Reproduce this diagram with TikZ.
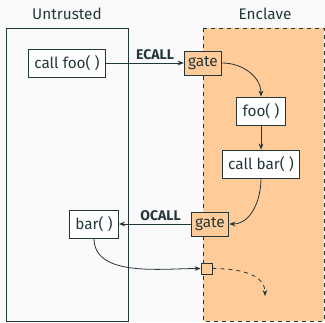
\documentclass[tikz,border=0pt]{standalone}
\usepackage{fontspec}
\setmainfont{Fira Sans}
\usepackage{xcolor}
\definecolor{mdark}{HTML}{23373B}
\definecolor{mback}{HTML}{FAFAFA}
\definecolor{enclfill}{HTML}{FFCB99}
\usetikzlibrary{arrows.meta,positioning}
\tikzset{
  fn/.style    = {rectangle, draw=mdark, fill=white, semithick,
                  minimum height=21pt, inner xsep=4.5pt, text=mdark,
                  font=\fontsize{11.5}{13}\selectfont},
  gatebox/.style = {rectangle, draw=mdark, fill=enclfill, semithick,
                  minimum height=18pt, inner xsep=3pt, text=mdark,
                  font=\fontsize{11.5}{13}\selectfont},
  region/.style = {draw=mdark, semithick},
  arr/.style   = {-{Stealth[length=4.5pt,width=3.5pt]}, semithick, draw=mdark},
  call/.style  = {font=\fontsize{10.5}{12}\selectfont\bfseries, text=mdark, inner sep=2pt}
}
\begin{document}
\begin{tikzpicture}[x=0.75pt,y=-0.75pt]
  \fill[mback] (0,0) rectangle (325,322);
  \useasboundingbox (0,0) rectangle (325,322);
  % the two worlds
  \draw[region] (6,28) rectangle (128,321);
  \draw[region, fill=enclfill, dashed] (203,28) rectangle (324,321);
  \node[text=mdark, font=\fontsize{11.5}{13}\selectfont] (untr) at (67,14) {Untrusted};
  \node[text=mdark, font=\fontsize{11.5}{13}\selectfont] (encl) at (265,14) {Enclave};
  % calls
  \node[fn] (callfoo) at (67,63) {call foo( )};
  \node[gatebox] (gatein) at (203,63) {gate};
  \node[fn] (foo) at (261,111) {foo( )};
  \node[fn] (callbar) at (261,164) {call bar( )};
  \node[gatebox] (gateout) at (210,224) {gate};
  \node[fn] (bar) at (94,224) {bar( )};
  \node[gatebox, minimum size=8.25pt, inner sep=0pt] (ret) at (206.5,268.5) {};
  \coordinate (cont) at (265,296);
  \draw[arr] (callfoo) -- node[call, above, pos=0.63] {ECALL} (gatein);
  \draw[arr] (gatein.east) to[out=0, in=90] (foo.north);
  \draw[arr] (foo) -- (callbar);
  \draw[arr] (callbar.south) to[out=270, in=0] (gateout.east);
  \draw[arr] (gateout) -- node[call, above, pos=0.42] {OCALL} (bar);
  \draw[arr] (bar.south) to[out=270, in=180, looseness=0.9] (ret.west);
  \draw[arr, dashed] (ret.east) to[out=0, in=90] (cont);
\end{tikzpicture}
\end{document}
